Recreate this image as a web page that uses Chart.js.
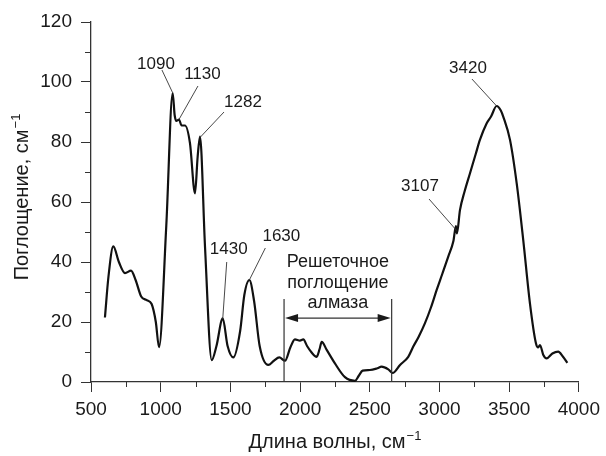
<!DOCTYPE html>
<html>
<head>
<meta charset="utf-8">
<script src="https://cdn.jsdelivr.net/npm/chart.js@4"></script>
<style>
  html, body { margin: 0; padding: 0; background: #fff; }
</style>
</head>
<body>
<canvas id="spectrumChart" width="606" height="456"></canvas>
<script>
// Spectrum data
const wavenumber = [600, 625, 660, 700, 744, 787, 820, 860, 900, 935, 965, 988, 1040, 1086, 1100, 1112, 1131, 1150, 1174, 1210, 1246, 1265, 1282, 1318, 1366, 1400, 1445, 1480, 1521, 1570, 1600, 1636, 1670, 1710, 1772, 1810, 1851, 1892, 1930, 1963, 1999, 2023, 2050, 2080, 2119, 2140, 2155, 2191, 2250, 2322, 2394, 2420, 2449, 2501, 2550, 2585, 2633, 2664, 2717, 2776, 2812, 2850, 2896, 2940, 2980, 3020, 3063, 3100, 3118, 3125, 3147, 3180, 3219, 3260, 3290, 3338, 3370, 3410, 3440, 3458, 3506, 3554, 3601, 3649, 3692, 3708, 3721, 3745, 3769, 3810, 3852, 3885, 3917];
const absorbance = [21.5, 35, 45.2, 40, 36.3, 37.1, 34, 28.5, 27.3, 26, 20, 11.6, 52, 96.3, 89, 87, 87.5, 85.5, 85.5, 79.6, 62.9, 75, 81.8, 45, 7.3, 12, 21.2, 12, 8.2, 17, 29, 34, 27, 12, 5.7, 7, 8.2, 7.1, 11.5, 14.2, 13.8, 14.2, 12, 10, 8.4, 11, 13.4, 10.7, 6.2, 1.6, 0.4, 2, 3.8, 4, 4.5, 5.1, 4.2, 3, 5.7, 8.4, 11.8, 15, 19.6, 25, 30.7, 36, 41.8, 47, 52, 49.5, 57.3, 63.5, 69.6, 76, 80.7, 86.2, 88.5, 92, 90.5, 88.4, 80.7, 66.2, 47.3, 26.2, 12.9, 11.5, 12.3, 9, 7.9, 9.5, 10.1, 8.5, 6.4];

// Peak labels and the peak each label points to
const peakLabels = ['1090', '1130', '1282', '1430', '1630', '3107', '3420'];
const peakWavenumber = [1085, 1131, 1282, 1445, 1636, 3123, 3410];
const peakAbsorbance = [96.5, 87.5, 81.5, 21, 34, 50.5, 92];

// Diamond lattice absorption band
const latticeBand = [1885, 2657];
const latticeText = ['Решеточное', 'поглощение', 'алмаза'];

// Axis ranges and titles (base text + superscript)
const xRange = [500, 4000];
const yRange = [0, 120];
const xTitle = ['Длина волны, см', '\u22121'];
const yTitle = ['Поглощение, см', '\u22121'];

const FONT = '"Liberation Sans", Arial, sans-serif';
const AXIS_COLOR = '#333';
const TEXT_COLOR = '#1a1a1a';

// pixel offsets from the peak: [leader start dx, dy, text dx, dy]
const labelOffsets = [
    [-10.6, -22.5, -16.6, -28.5],
    [19, -33.5, 23.5, -45],
    [24, -25.5, 43, -35.5],
    [4, -57, 6, -70],
    [16, -32, 32, -44],
    [-27.6, -31.5, -36.6, -44],
    [-24.7, -27, -28.7, -37.5]
];

// draws "base" + raised superscript, centred on 0 along the current baseline
function drawSuperTitle(ctx, parts) {
    ctx.font = '20px ' + FONT;
    const wBase = ctx.measureText(parts[0]).width;
    ctx.font = '13px ' + FONT;
    const wSup = ctx.measureText(parts[1]).width;
    const start = -(wBase + wSup + 1) / 2;
    ctx.textAlign = 'left';
    ctx.textBaseline = 'alphabetic';
    ctx.font = '20px ' + FONT;
    ctx.fillText(parts[0], start, 0);
    ctx.font = '13px ' + FONT;
    ctx.fillText(parts[1], start + wBase + 1, -8);
}

const annotationPlugin = {
    id: 'spectrumAnnotations',
    afterDraw(chart) {
        const ctx = chart.ctx;
        const x = chart.scales.x;
        const y = chart.scales.y;
        ctx.save();

        // Minor ticks
        ctx.strokeStyle = AXIS_COLOR;
        ctx.lineWidth = 1;
        ctx.beginPath();
        x.ticks.forEach(t => {
            if (t.value % 500 !== 0) {
                const px = Math.round(x.getPixelForValue(t.value)) + 0.5;
                ctx.moveTo(px, y.bottom);
                ctx.lineTo(px, y.bottom + 5);
            }
        });
        y.ticks.forEach(t => {
            if (t.value % 20 !== 0) {
                const py = Math.round(y.getPixelForValue(t.value)) + 0.5;
                ctx.moveTo(x.left, py);
                ctx.lineTo(x.left - 6, py);
            }
        });
        ctx.stroke();

        // Axis titles
        ctx.fillStyle = TEXT_COLOR;
        ctx.save();
        ctx.translate((x.left + x.right) / 2, 448);
        drawSuperTitle(ctx, xTitle);
        ctx.restore();
        ctx.save();
        ctx.translate(28, 197);
        ctx.rotate(-Math.PI / 2);
        drawSuperTitle(ctx, yTitle);
        ctx.restore();

        // Peak labels with leader lines
        ctx.font = '17px ' + FONT;
        ctx.textAlign = 'center';
        ctx.textBaseline = 'middle';
        ctx.lineWidth = 0.9;
        peakLabels.forEach((label, i) => {
            const px = x.getPixelForValue(peakWavenumber[i]);
            const py = y.getPixelForValue(peakAbsorbance[i]);
            const off = labelOffsets[i];
            ctx.beginPath();
            ctx.moveTo(px + off[0], py + off[1]);
            ctx.lineTo(px, py);
            ctx.stroke();
            ctx.fillText(label, px + off[2], py + off[3]);
        });

        // Lattice band: vertical bounds, double arrow, caption
        const x1 = x.getPixelForValue(latticeBand[0]);
        const x2 = x.getPixelForValue(latticeBand[1]);
        const yBase = y.getPixelForValue(0);
        const yTop = y.getPixelForValue(27.7);
        const yArrow = y.getPixelForValue(21.3);
        ctx.lineWidth = 1.2;
        ctx.beginPath();
        ctx.moveTo(x1, yBase); ctx.lineTo(x1, yTop);
        ctx.moveTo(x2, yBase); ctx.lineTo(x2, yTop);
        ctx.moveTo(x1 + 10, yArrow); ctx.lineTo(x2 - 10, yArrow);
        ctx.stroke();
        ctx.beginPath();
        ctx.moveTo(x1 + 1, yArrow); ctx.lineTo(x1 + 14, yArrow - 4); ctx.lineTo(x1 + 14, yArrow + 4); ctx.closePath();
        ctx.moveTo(x2 - 1, yArrow); ctx.lineTo(x2 - 14, yArrow - 4); ctx.lineTo(x2 - 14, yArrow + 4); ctx.closePath();
        ctx.fill();

        ctx.font = '18px ' + FONT;
        const cx = (x1 + x2) / 2;
        const textRows = [40, 33, 26.3];
        latticeText.forEach((line, i) => {
            ctx.fillText(line, cx, y.getPixelForValue(textRows[i]));
        });

        ctx.restore();
    }
};

const ctx = document.getElementById('spectrumChart').getContext('2d');

window.spectrumChart = new Chart(ctx, {
    type: 'line',
    data: {
        datasets: [{
            data: wavenumber.map((w, i) => ({ x: w, y: absorbance[i] })),
            borderColor: '#111',
            borderWidth: 2.2,
            pointRadius: 0,
            fill: false,
            cubicInterpolationMode: 'monotone'
        }]
    },
    options: {
        responsive: false,
        devicePixelRatio: 1,
        animation: false,
        layout: {
            padding: { top: 22, right: 27, bottom: 0, left: 0 }
        },
        plugins: {
            legend: { display: false },
            tooltip: { enabled: false }
        },
        scales: {
            x: {
                type: 'linear',
                min: xRange[0],
                max: xRange[1],
                afterFit: scale => { scale.height = 74; },
                border: { display: true, color: AXIS_COLOR, width: 1.3 },
                grid: {
                    drawOnChartArea: false,
                    drawTicks: true,
                    tickLength: 10,
                    tickColor: c => (c.tick && c.tick.value % 500 === 0) ? AXIS_COLOR : 'rgba(0,0,0,0)'
                },
                ticks: {
                    stepSize: 250,
                    autoSkip: false,
                    maxRotation: 0,
                    padding: 6,
                    color: TEXT_COLOR,
                    font: { family: FONT, size: 19 },
                    callback: v => (v % 500 === 0 ? String(v) : '')
                }
            },
            y: {
                min: yRange[0],
                max: yRange[1],
                afterFit: scale => { scale.width = 91; },
                border: { display: true, color: AXIS_COLOR, width: 1.3 },
                grid: {
                    drawOnChartArea: false,
                    drawTicks: true,
                    tickLength: 10,
                    tickColor: c => (c.tick && c.tick.value % 20 === 0) ? AXIS_COLOR : 'rgba(0,0,0,0)'
                },
                ticks: {
                    stepSize: 10,
                    autoSkip: false,
                    padding: 9,
                    color: TEXT_COLOR,
                    font: { family: FONT, size: 19 },
                    callback: v => (v % 20 === 0 ? String(v) : '')
                }
            }
        }
    },
    plugins: [annotationPlugin]
});
</script>
</body>
</html>
